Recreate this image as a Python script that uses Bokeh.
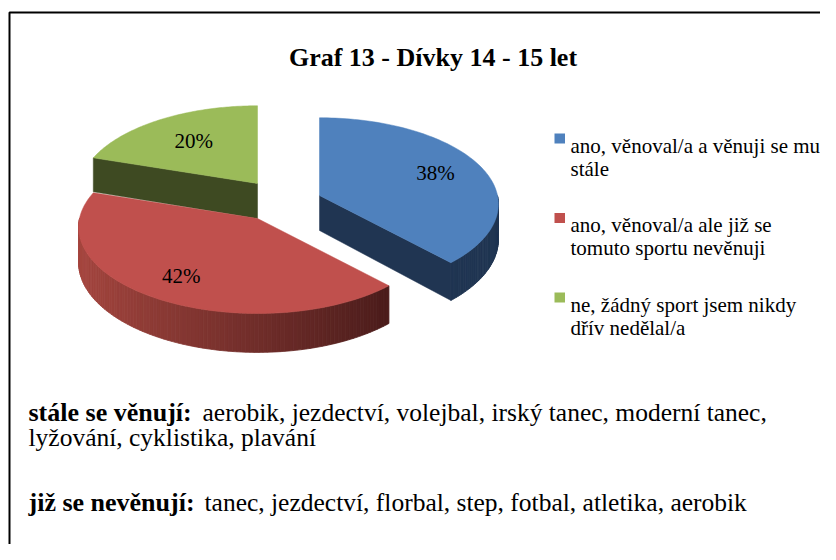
import numpy as np
from bokeh.plotting import figure
from bokeh.models import Range1d
from bokeh.core.properties import value
from bokeh.embed import file_html
from bokeh.resources import INLINE

# ---------------- data ----------------
title = "Graf 13 - Dívky 14 - 15 let"
categories = [
    "ano, věnoval/a a věnuji se mu\nstále",
    "ano, věnoval/a ale již se\ntomuto sportu nevěnuji",
    "ne, žádný sport jsem nikdy\ndřív nedělal/a",
]
values = [38, 42, 20]
top_colors = ["#4F81BD", "#C0504D", "#9BBB59"]
side_colors = ["#203552", None, "#3E4A22"]          # None -> gradient
red_side_light, red_side_dark = "#A6463F", "#4B1C1B"
note_bold = ["stále se věnují:", "", "již se nevěnují:"]
note_text = [
    "aerobik, jezdectví, volejbal, irský tanec, moderní tanec,",
    "lyžování, cyklistika, plavání",
    "tanec, jezdectví, florbal, step, fotbal, atletika, aerobik",
]

# ---------------- layout ----------------
W, H = 820, 544
FONT = "'Liberation Serif', 'Times New Roman', Times, serif"
PIE_CX, PIE_CY = 257, 218
RX, RY = 178, 85.5
PERSP = 0.1
DEPTH = 35
EXPLODE = [(62, -23), (0, 0), (0, -35)]
LABEL_F = [0.72, 0.75, 0.64]

p = figure(width=W, height=H, x_range=Range1d(0, W), y_range=Range1d(H, 0),
           output_backend="svg", toolbar_location=None,
           x_axis_type=None, y_axis_type=None, min_border=0)
p.grid.visible = False
p.outline_line_color = None
p.background_fill_color = "white"
p.border_fill_color = "white"

# frame border
p.quad(left=[9], right=[W + 50], top=[12], bottom=[H + 50],
       fill_color=None, line_color="black", line_width=2)


def hex2rgb(h):
    h = h.lstrip("#")
    return tuple(int(h[i:i + 2], 16) for i in (0, 2, 4))


def lerp_col(c1, c2, t):
    a, b = hex2rgb(c1), hex2rgb(c2)
    return "#%02x%02x%02x" % tuple(int(round(a[i] + (b[i] - a[i]) * t)) for i in range(3))


def proj(cx, cy, th, frac=1.0):
    u, v = np.cos(th) * frac, np.sin(th) * frac
    s = 1.0 / (1.0 + PERSP * v)
    return cx + RX * u * s, cy - RY * v * s


def depth(th, frac=1.0):
    v = np.sin(th) * frac
    return DEPTH / (1.0 + PERSP * v)


total = float(sum(values))
cum = np.concatenate([[0], np.cumsum(values)]) / total
# angles (radians): slice i covers [a_i, b_i] counter-clockwise
b_ang = np.deg2rad(90 - 360 * cum[:-1])
a_ang = np.deg2rad(90 - 360 * cum[1:])

order = [2, 1, 0]  # back to front
for i in order:
    a, b = a_ang[i], b_ang[i]
    cx, cy = PIE_CX + EXPLODE[i][0], PIE_CY + EXPLODE[i][1]
    scol = side_colors[i]
    # radial faces
    faces = []
    if np.cos(a) > 1e-6:
        faces.append(a)
    if np.cos(b) < -1e-6:
        faces.append(b)
    for th in faces:
        rx_, ry_ = proj(cx, cy, th)
        xs = [cx, rx_, rx_, cx]
        ys = [cy, ry_, ry_ + depth(th), cy + DEPTH]
        p.patch(xs, ys, fill_color=scol or red_side_dark, line_color=scol or red_side_dark, line_width=0.5)
    # outer side wall (visible where sin < 0)
    n = 120
    ts = np.linspace(a, b, n + 1)
    sx, sy, sc = [], [], []
    for k in range(n):
        t0, t1 = ts[k], ts[k + 1]
        if np.sin(0.5 * (t0 + t1)) >= 0:
            continue
        x0, y0 = proj(cx, cy, t0)
        x1, y1 = proj(cx, cy, t1)
        sx.append([x0, x1, x1, x0])
        sy.append([y0, y1, y1 + depth(t1), y0 + depth(t0)])
        if scol is None:
            cm = np.cos(0.5 * (t0 + t1))
            tt = (cm + 1.0) / (np.cos(a_ang[0]) + 1.0)
            sc.append(lerp_col(red_side_light, red_side_dark, min(max(tt, 0), 1)))
        else:
            sc.append(scol)
    if sx:
        p.patches(sx, sy, fill_color=sc, line_color=sc, line_width=0.8)
    # top face
    tt = np.linspace(b, a, 100)
    px, py = proj(cx, cy, tt)
    p.patch([cx] + list(px) + [cx], [cy] + list(py) + [cy],
            fill_color=top_colors[i], line_color=top_colors[i], line_width=0.5)

# percentage labels
lx, ly, lt = [], [], []
for i in range(len(values)):
    m = 0.5 * (a_ang[i] + b_ang[i])
    cx, cy = PIE_CX + EXPLODE[i][0], PIE_CY + EXPLODE[i][1]
    x_, y_ = proj(cx, cy, m, LABEL_F[i])
    lx.append(x_); ly.append(y_); lt.append(f"{values[i]}%")
p.text(lx, ly, text=lt, text_font=value(FONT), text_font_size="21px",
       text_align="center", text_baseline="middle", text_color="black")

# title
p.text([432.5], [56.7], text=[title], text_font=value(FONT), text_font_size="26px",
       text_font_style="bold", text_align="center", text_baseline="alphabetic", text_color="black")

# legend
LEG_X, LEG_Y0, LEG_STEP = 554, 138, 79.5
for i, cat in enumerate(categories):
    yc = LEG_Y0 + i * LEG_STEP
    p.quad(left=[LEG_X], right=[LEG_X + 10.5], top=[yc - 5], bottom=[yc + 5],
           fill_color=top_colors[i], line_color=None)
    lines = cat.split("\n")
    p.text([LEG_X + 16] * len(lines), [yc + 7 + 23 * k for k in range(len(lines))], text=lines,
           text_font=value(FONT), text_font_size="21px", text_align="left",
           text_baseline="alphabetic", text_color="black")

# notes below
NOTE_X = 28
note_y = [411.7, 436.7, 501.7]
note_reg_x = [202, NOTE_X, 204]
for k in range(3):
    if note_bold[k]:
        p.text([NOTE_X], [note_y[k]], text=[note_bold[k]], text_font=value(FONT),
               text_font_size="26px", text_font_style="bold", text_align="left",
               text_baseline="alphabetic", text_color="black")
    p.text([note_reg_x[k]], [note_y[k]], text=[note_text[k]], text_font=value(FONT),
           text_font_size="25.5px", text_align="left", text_baseline="alphabetic", text_color="black")

open("out.html", "w").write(file_html(p, INLINE))
